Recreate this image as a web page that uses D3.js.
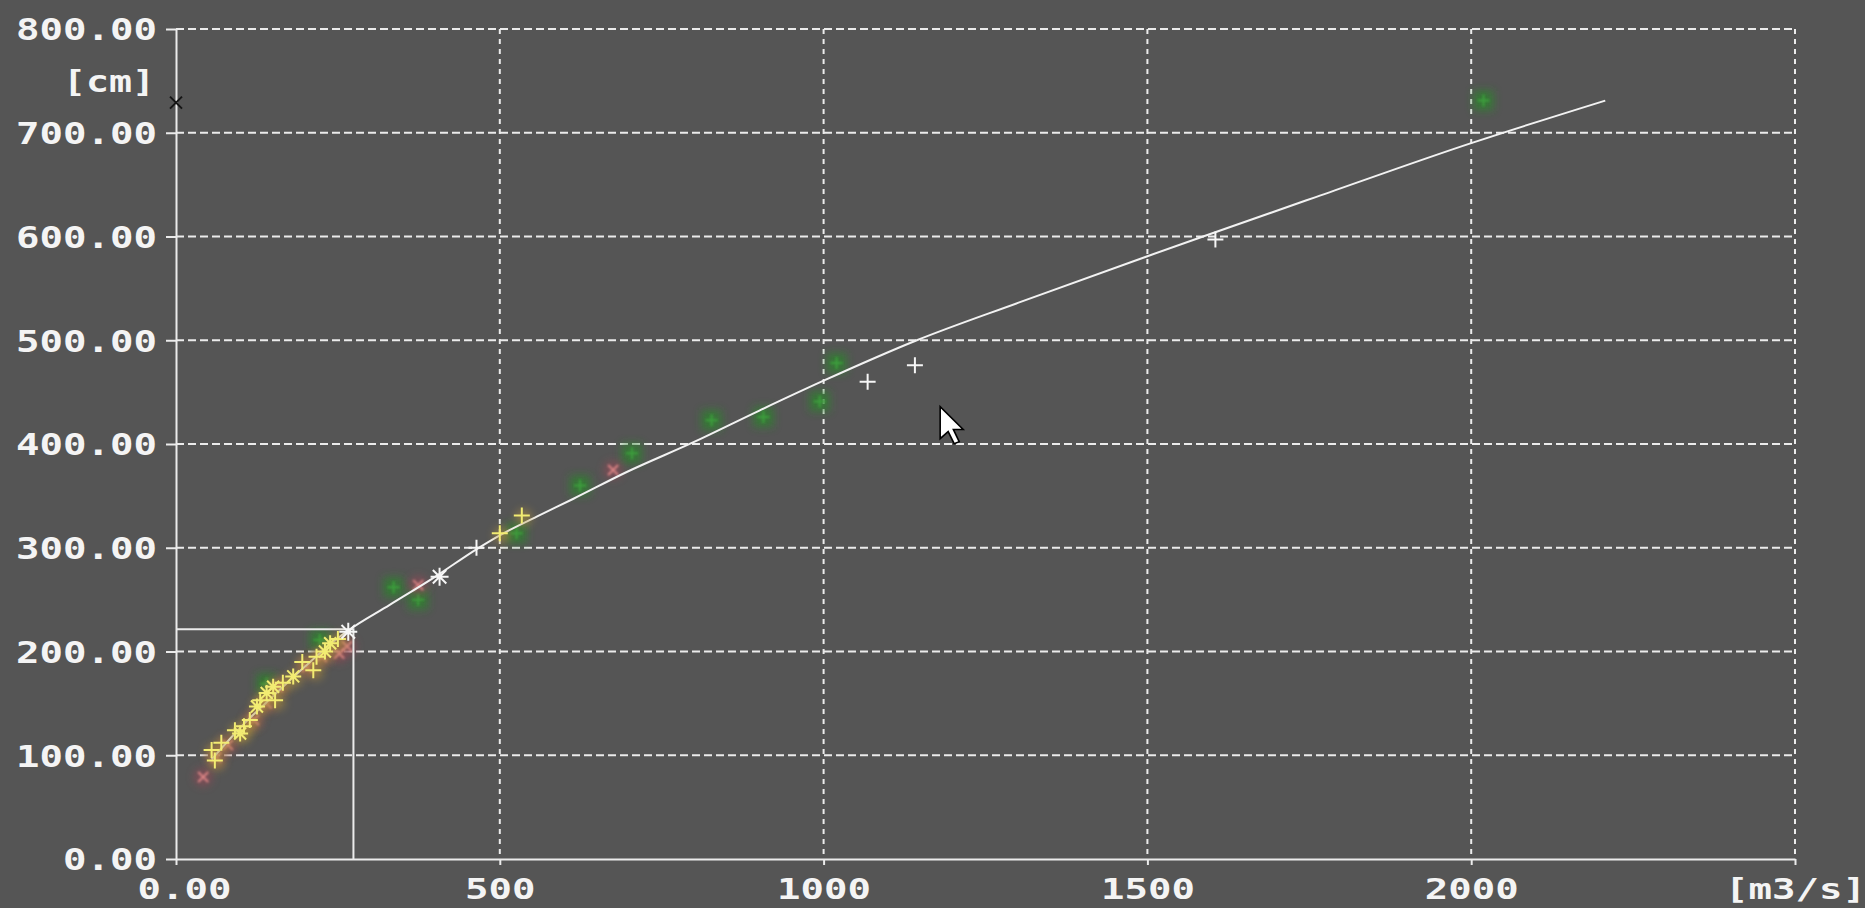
<!DOCTYPE html>
<html>
<head>
<meta charset="utf-8">
<script src="https://cdn.jsdelivr.net/npm/d3@7"></script>
<style>
  html, body { margin: 0; padding: 0; background: #555555; }
  svg { display: block; }
</style>
</head>
<body>
<svg id="chart" width="1865" height="908"></svg>
<script>
// ---- Axis ticks ----
const xTickValues = [0, 500, 1000, 1500, 2000, 2500];
const xTickLabels = ["0.00", "500", "1000", "1500", "2000", "[m3/s]"];
const yTickValues = [0, 100, 200, 300, 400, 500, 600, 700, 800];
const yUnitLabel = "[cm]";
const yUnitLevel = 750;

// ---- Rating curve: discharge Q [m3/s] -> stage H [cm] ----
const curveQ = [55, 100, 150, 200, 263, 330, 400, 465, 500, 557, 613, 696, 800, 900, 1000, 1144, 1300, 1500, 1586, 1760, 2000, 2207];
const curveH = [96, 127, 157, 186, 219, 245, 272, 299, 312, 330, 347, 373, 402, 432, 461, 500, 536, 581, 600, 638, 690, 731];

// ---- Gaugings, grouped by period ----
const greenQ = [140, 222, 336, 374, 526, 624, 704, 827, 907, 994, 1020, 2019];
const greenH = [169, 211, 262, 250, 314, 360, 391, 423, 426, 441, 478, 731];

const redQ = [42, 62, 80, 120, 140, 157, 202, 225, 252, 264, 374, 675];
const redH = [79, 98, 110, 134, 150, 166, 185, 195, 198, 205, 264, 375];

const yellowPlusQ = [55, 60, 70, 91, 105, 114, 130, 153, 165, 195, 212, 217, 250, 500, 534];
const yellowPlusH = [105, 95, 112, 124, 128, 134, 153, 153, 170, 190, 182, 195, 212, 314, 331];

const yellowStarQ = [99, 125, 140, 150, 181, 230, 238];
const yellowStarH = [121, 147, 160, 166, 176, 200, 208];

const whitePlusQ = [464, 1068, 1141, 1605];
const whitePlusH = [300, 460, 476, 597];

const whiteStarQ = [266, 407];
const whiteStarH = [219, 272];

// ---- Selected reading, axis marker, pointer ----
const selectedQ = 274, selectedH = 221.5;
const axisMarkQ = 0, axisMarkH = 729;
const pointerQ = 1180, pointerH = 436;

// ---- Scales ----
const x = d3.scaleLinear().domain([0, 2500]).range([176, 1795]);
const y = d3.scaleLinear().domain([0, 800]).range([859, 29]);

const svg = d3.select("#chart");
svg.append("rect").attr("width", 1865).attr("height", 908).attr("fill", "#555555");

const defs = svg.append("defs");
defs.append("filter").attr("id", "soft").attr("x", "-100%").attr("y", "-100%").attr("width", "300%").attr("height", "300%")
  .append("feGaussianBlur").attr("stdDeviation", 4);
defs.append("filter").attr("id", "softer").attr("x", "-100%").attr("y", "-100%").attr("width", "300%").attr("height", "300%")
  .append("feGaussianBlur").attr("stdDeviation", 1.2);

const LINE = "#ebebeb";
const FONT = "'DejaVu Sans Mono', 'Liberation Mono', monospace";

// ---- Grid ----
const grid = svg.append("g");
grid.selectAll("line.h").data(yTickValues.filter(d => d > 0)).join("line")
  .attr("x1", x(0)).attr("x2", x(2500))
  .attr("y1", d => y(d)).attr("y2", d => y(d))
  .attr("stroke", LINE).attr("stroke-width", 2).attr("stroke-dasharray", "8,4");
grid.selectAll("line.v").data(xTickValues.filter(d => d > 0)).join("line")
  .attr("x1", d => x(d)).attr("x2", d => x(d))
  .attr("y1", y(800)).attr("y2", y(0))
  .attr("stroke", LINE).attr("stroke-width", 2).attr("stroke-dasharray", "5,5");

// ---- Axes ----
function styleAxis(g, size) {
  g.select(".domain").attr("stroke", LINE).attr("stroke-width", 2);
  g.selectAll(".tick line").attr("stroke", LINE).attr("stroke-width", 2);
  g.selectAll(".tick text")
    .attr("fill", "#f4f4f4")
    .attr("font-family", FONT)
    .attr("font-weight", "bold")
    .attr("font-size", size)
    .attr("textLength", function () { return this.textContent.length * 23.5; })
    .attr("lengthAdjust", "spacingAndGlyphs");
}

const yAxis = svg.append("g").attr("transform", `translate(${x(0)},0)`)
  .call(d3.axisLeft(y).tickValues(yTickValues).tickFormat(d3.format(".2f"))
        .tickSize(10).tickPadding(9).tickSizeOuter(0));
yAxis.attr("font-family", null).attr("font-size", null);
styleAxis(yAxis, 30);
yAxis.selectAll(".tick text").attr("dy", "0.36em");

const xAxis = svg.append("g").attr("transform", `translate(0,${y(0)})`)
  .call(d3.axisBottom(x).tickValues(xTickValues).tickFormat((d, i) => xTickLabels[i])
        .tickSize(6).tickPadding(14).tickSizeOuter(0));
xAxis.attr("font-family", null).attr("font-size", null);
styleAxis(xAxis, 28);
xAxis.selectAll(".tick text").attr("dy", "0.71em").attr("dx", (d, i) => i === 0 ? 8 : 0);

// unit label of the stage axis
svg.append("text")
  .attr("x", x(0) - 21).attr("y", y(yUnitLevel)).attr("dy", "0.36em")
  .attr("text-anchor", "end")
  .attr("fill", "#f4f4f4").attr("font-family", FONT).attr("font-weight", "bold").attr("font-size", 30)
  .attr("textLength", yUnitLabel.length * 23).attr("lengthAdjust", "spacingAndGlyphs")
  .text(yUnitLabel);

// ---- Marker glyphs ----
const plusPath = s => `M${-s},0H${s}M0,${-s}V${s}`;
const crossPath = s => `M${-s},${-s}L${s},${s}M${-s},${s}L${s},${-s}`;
const starPath = s => plusPath(s) + crossPath(s * 0.75);

const pts = (qs, hs) => d3.zip(qs, hs);
const at = d => `translate(${x(d[0])},${y(d[1])})`;

// green gaugings: soft blotches with a faint cross
const gGreen = svg.append("g");
gGreen.selectAll("rect").data(pts(greenQ, greenH)).join("rect")
  .attr("x", d => x(d[0]) - 10).attr("y", d => y(d[1]) - 10)
  .attr("width", 20).attr("height", 20)
  .attr("fill", "#2a842a").attr("opacity", 0.75).attr("filter", "url(#soft)");
gGreen.selectAll("path").data(pts(greenQ, greenH)).join("path")
  .attr("transform", at)
  .attr("d", plusPath(6)).attr("stroke", "#3d9f3d").attr("stroke-width", 2).attr("fill", "none")
  .attr("filter", "url(#softer)");

// red gaugings
const gRed = svg.append("g");
gRed.selectAll("circle").data(pts(redQ, redH)).join("circle")
  .attr("cx", d => x(d[0])).attr("cy", d => y(d[1])).attr("r", 9)
  .attr("fill", "#8f4a56").attr("opacity", 0.75).attr("filter", "url(#soft)");
gRed.selectAll("path").data(pts(redQ, redH)).join("path")
  .attr("transform", at)
  .attr("d", crossPath(5)).attr("stroke", "#d98484").attr("stroke-width", 2).attr("fill", "none")
  .attr("filter", "url(#softer)");

// ---- Selected reading (cross-hair to the axes) ----
svg.append("path")
  .attr("d", `M${x(0)},${y(selectedH)}H${x(selectedQ)}V${y(0)}`)
  .attr("fill", "none").attr("stroke", LINE).attr("stroke-width", 2);

// ---- Rating curve ----
svg.append("path")
  .datum(pts(curveQ, curveH))
  .attr("d", d3.line().curve(d3.curveMonotoneX).x(d => x(d[0])).y(d => y(d[1])))
  .attr("fill", "none").attr("stroke", "#f2f2f2").attr("stroke-width", 2);

// yellow gaugings, with a warm glow beneath
const yellowAll = pts(yellowPlusQ, yellowPlusH).concat(pts(yellowStarQ, yellowStarH));
const gYellow = svg.append("g");
gYellow.selectAll("circle").data(yellowAll).join("circle")
  .attr("cx", d => x(d[0]) + 2).attr("cy", d => y(d[1]) + 2).attr("r", 8)
  .attr("fill", "#b8963a").attr("opacity", 0.55).attr("filter", "url(#soft)");
gYellow.selectAll("path.p").data(pts(yellowPlusQ, yellowPlusH)).join("path")
  .attr("transform", at)
  .attr("d", plusPath(8)).attr("stroke", "#f2ec72").attr("stroke-width", 2).attr("fill", "none");
gYellow.selectAll("path.s").data(pts(yellowStarQ, yellowStarH)).join("path")
  .attr("transform", at)
  .attr("d", starPath(8)).attr("stroke", "#f2ec72").attr("stroke-width", 2).attr("fill", "none");

// white gaugings
const gWhite = svg.append("g");
gWhite.selectAll("path.p").data(pts(whitePlusQ, whitePlusH)).join("path")
  .attr("transform", at)
  .attr("d", plusPath(8)).attr("stroke", "#f6f6f6").attr("stroke-width", 2).attr("fill", "none");
gWhite.selectAll("path.s").data(pts(whiteStarQ, whiteStarH)).join("path")
  .attr("transform", at)
  .attr("d", starPath(9)).attr("stroke", "#f6f6f6").attr("stroke-width", 2).attr("fill", "none");

// ---- Stage marker on the axis ----
svg.append("path")
  .attr("transform", `translate(${x(axisMarkQ)},${y(axisMarkH)})`)
  .attr("d", crossPath(6)).attr("stroke", "#151515").attr("stroke-width", 2).attr("fill", "none");

// ---- Mouse pointer ----
svg.append("path")
  .attr("transform", `translate(${x(pointerQ)},${y(pointerH)}) scale(2)`)
  .attr("d", "M0,0L0,16L4,12.5L7,18.5L9.5,17.5L6.6,11.4L11.5,11.4Z")
  .attr("fill", "#ffffff").attr("stroke", "#000000").attr("stroke-width", 0.8).attr("stroke-linejoin", "miter");
</script>
</body>
</html>
